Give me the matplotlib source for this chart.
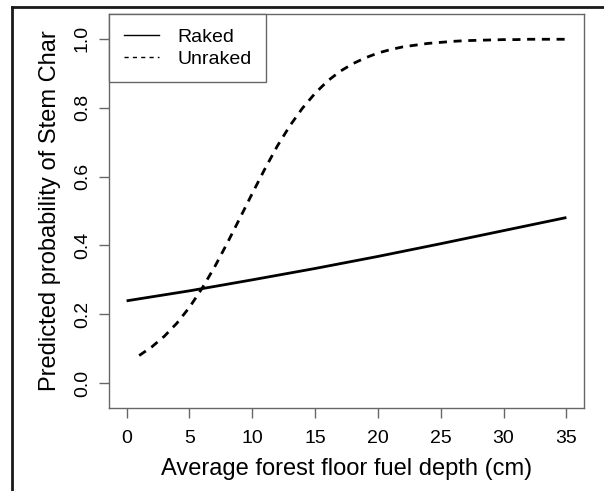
import matplotlib.pyplot as plt
from matplotlib.lines import Line2D

plt.rcParams['font.family'] = ['Liberation Sans', 'DejaVu Sans']

# fuel depth (cm) and predicted probabilities
raked_x = [0, 5, 10, 15, 20, 25, 30, 35]
raked_p = [0.239, 0.268, 0.300, 0.333, 0.368, 0.405, 0.443, 0.481]

unraked_x = list(range(1, 36))
unraked_p = [0.080, 0.105, 0.136, 0.174, 0.220, 0.275, 0.337, 0.406, 0.478, 0.551,
             0.622, 0.689, 0.748, 0.799, 0.842, 0.878, 0.906, 0.928, 0.945, 0.959,
             0.969, 0.977, 0.982, 0.987, 0.990, 0.993, 0.995, 0.996, 0.997, 0.998,
             0.998, 0.999, 0.999, 0.999, 0.999]

x_ticks = [0, 5, 10, 15, 20, 25, 30, 35]
y_ticks = [0.0, 0.2, 0.4, 0.6, 0.8, 1.0]

fig = plt.figure(figsize=(6.04, 4.91), dpi=100)
ax = fig.add_axes([109 / 604, 1 - 408 / 491, (584 - 109) / 604, (408 - 14) / 491])

ax.plot(raked_x, raked_p, color="black", lw=2, solid_capstyle="butt")
ax.plot(unraked_x, unraked_p, color="black", lw=2, linestyle=(0, (2.9, 2.4)))

ax.set_xlim(-1.4, 36.4)
ax.set_ylim(-0.0724, 1.0724)
ax.set_xticks(x_ticks)
ax.set_yticks(y_ticks)
ax.set_yticklabels([f"{v:.1f}" for v in y_ticks], rotation=90, va="center")

for s in ax.spines.values():
    s.set_color("#666666")
    s.set_linewidth(1)
ax.tick_params(length=7, width=1, color="#666666", labelsize=14, pad=6)
ax.tick_params(axis="x", pad=9)

ax.set_xlabel("Average forest floor fuel depth (cm)", fontsize=17, labelpad=8)
ax.set_ylabel("Predicted probability of Stem Char", fontsize=17, labelpad=9)

handles = [Line2D([], [], color="black", lw=1),
           Line2D([], [], color="black", lw=1, linestyle=(0, (3, 3)))]
leg = ax.legend(handles, ["Raked", "Unraked"], loc="upper left", bbox_to_anchor=(0, 1),
                borderaxespad=0, fancybox=False, framealpha=1, fontsize=14,
                handlelength=1.8, handletextpad=0.95, borderpad=0.75, labelspacing=0.2)
leg.get_frame().set_edgecolor("#666666")
leg.get_frame().set_linewidth(1)

# outer frame on top and left edge
fig.add_artist(Line2D([12 / 604, 1], [1 - 7 / 491, 1 - 7 / 491], color="#1a1a1a", lw=2,
                      transform=fig.transFigure))
fig.add_artist(Line2D([12 / 604, 12 / 604], [0, 1 - 7 / 491], color="#1a1a1a", lw=2,
                      transform=fig.transFigure))

fig.savefig("out.png", dpi=100)
